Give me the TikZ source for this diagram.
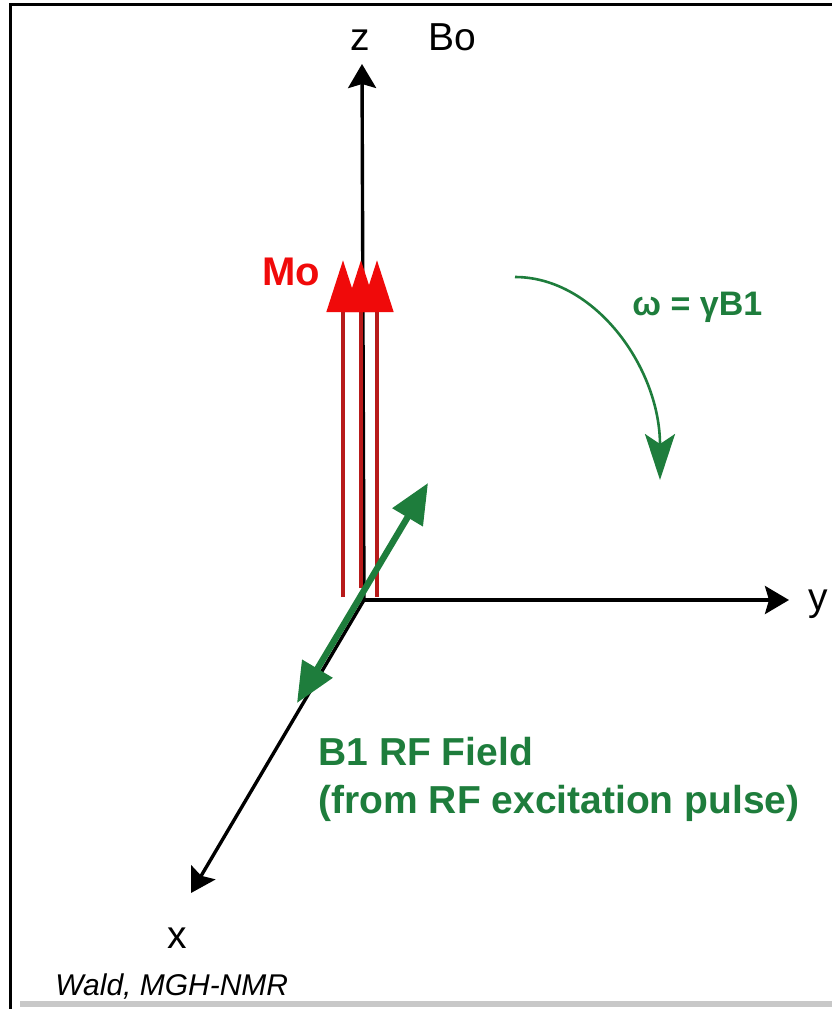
\documentclass[tikz,border=0pt]{standalone}
\usepackage{fontspec}
\setmainfont{Liberation Sans}
\usetikzlibrary{arrows.meta}
\definecolor{mrgreen}{HTML}{1E7D3C}
\definecolor{mrred}{HTML}{F00A0A}
\definecolor{mrdark}{HTML}{B81A1A}
\definecolor{mrgray}{HTML}{C8C8C8}

\begin{document}
\begin{tikzpicture}[x=0.5pt, y=-0.5pt, font=\fontsize{19.5}{24}\selectfont,
    lbl/.style={inner sep=0pt, anchor=base west}]
    \useasboundingbox (0,0) rectangle (832,1009);
    % frame of the slide
    \draw[line width=1.5pt] (10,1009) -- (10,4) -- (832,4);
    \draw[mrgray, line width=3pt] (20,1004) -- (832,1004);

    % axes
    \coordinate (orig) at (364,600);
    \coordinate (ztip) at (362,64);
    \coordinate (ytip) at (789,600);
    \coordinate (xtip) at (191,893);
    \node[lbl] (zlab) at (350,50) {z};
    \node[lbl] (bolab) at (428,50) {Bo};
    \node[lbl] (ylab) at (808,610) {y};
    \node[lbl] (xlab) at (167,948) {x};
    \draw[line width=1.7pt, -{Stealth[length=12pt, width=14pt, inset=2pt]}] (orig) -- (ztip);
    \draw[line width=1.7pt, -{Stealth[length=12pt, width=14pt, inset=2pt]}] (orig) -- (ytip);
    \draw[line width=1.7pt, -{Stealth[length=12pt, width=14pt, inset=2pt]}] (orig) -- (xtip);

    % equilibrium magnetisation
    \coordinate (m1b) at (343,597);
    \coordinate (m1t) at (343,260);
    \coordinate (m2b) at (361,588);
    \coordinate (m2t) at (361,260);
    \coordinate (m3b) at (377,597);
    \coordinate (m3t) at (377,260);
    \draw[mrdark, line width=2.4pt, -{Triangle[length=26pt, width=16pt, color=mrred]}] (m1b) -- (m1t);
    \draw[mrdark, line width=2.4pt, -{Triangle[length=26pt, width=16pt, color=mrred]}] (m2b) -- (m2t);
    \draw[mrdark, line width=2.4pt, -{Triangle[length=26pt, width=16pt, color=mrred]}] (m3b) -- (m3t);
    \node[lbl, text=mrred, font=\fontsize{20}{24}\selectfont\bfseries] (molab) at (262,285) {Mo};

    % rotation
    \coordinate (rotst) at (515,277);
    \coordinate (rotend) at (660,480);
    \draw[mrgreen, line width=1.3pt, -{Stealth[length=23pt, width=15pt, inset=5pt]}]
      (rotst) .. controls (595,277) and (660,368) .. (rotend);
    \node[lbl, text=mrgreen, font=\fontsize{17}{20}\selectfont\bfseries] (omlab) at (632,315) {ω = γB1};

    % RF field
    \coordinate (b1lo) at (297,703);
    \coordinate (b1hi) at (428,483);
    \draw[mrgreen, line width=3.2pt, {Triangle[length=20pt, width=17pt]}-{Triangle[length=20pt, width=17pt]}] (b1lo) -- (b1hi);
    \node[lbl, text=mrgreen, font=\fontsize{19.5}{24}\selectfont\bfseries, align=left] (b1lab) at (318,813)
      {B1 RF Field\\(from RF excitation pulse)};

    \node[lbl, font=\fontsize{15}{18}\selectfont\itshape] (credit) at (55,995) {Wald, MGH-NMR};
  \end{tikzpicture}
\end{document}
